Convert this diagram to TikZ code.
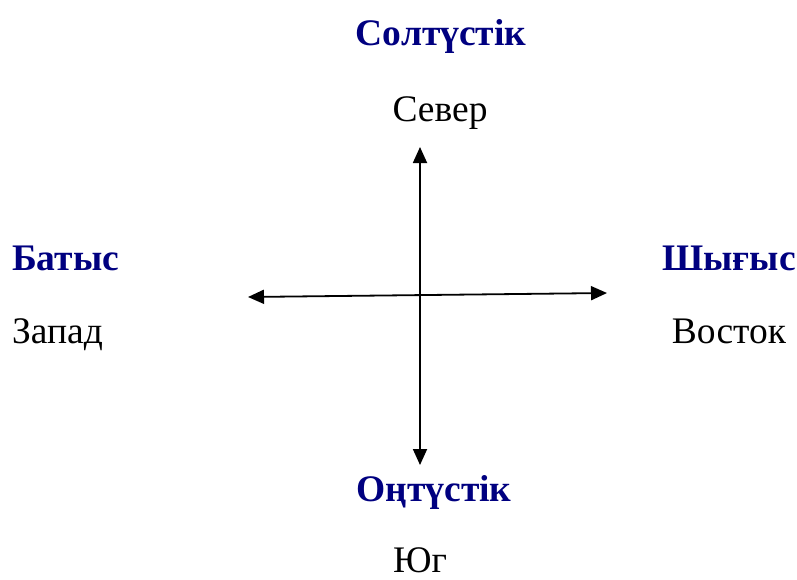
\documentclass[tikz,border=0pt]{standalone}
\usepackage{fontspec}
\setmainfont{Liberation Serif}
\usetikzlibrary{arrows.meta}
\definecolor{kzblue}{HTML}{000080}
\tikzset{
  kz/.style={font=\fontsize{37.5}{42}\selectfont\bfseries, text=kzblue, inner sep=0pt},
  ru/.style={font=\fontsize{37.5}{42}\selectfont, inner sep=0pt},
  axis/.style={line width=1.8pt, {Triangle[length=16pt,width=14pt]}-{Triangle[length=16pt,width=14pt]}}
}
\begin{document}
\begin{tikzpicture}[x=1pt, y=-1pt]
\useasboundingbox (0,0) rectangle (797,579);

% ---- the four ends of the cross ----
\coordinate (north) at (420,147);
\coordinate (south) at (420,465);
\coordinate (west) at (248,297);
\coordinate (east) at (607,293);

\draw[axis] (south) -- (north);
\draw[axis] (west) -- (east);

% ---- north ----
\node[kz, anchor=base] (kznorth) at (441,45) {Солтүстік};
\node[ru, anchor=base] (runorth) at (440,121) {Север};

% ---- west ----
\node[kz, anchor=base west] (kzwest) at (12,270) {Батыс};
\node[ru, anchor=base west] (ruwest) at (12,343) {Запад};

% ---- east ----
\node[kz, anchor=base] (kzeast) at (729,270) {Шығыс};
\node[ru, anchor=base] (rueast) at (729,343) {Восток};

% ---- south ----
\node[kz, anchor=base] (kzsouth) at (434,501) {Оңтүстік};
\node[ru, anchor=base] (rusouth) at (420,572) {Юг};

\end{tikzpicture}
\end{document}
